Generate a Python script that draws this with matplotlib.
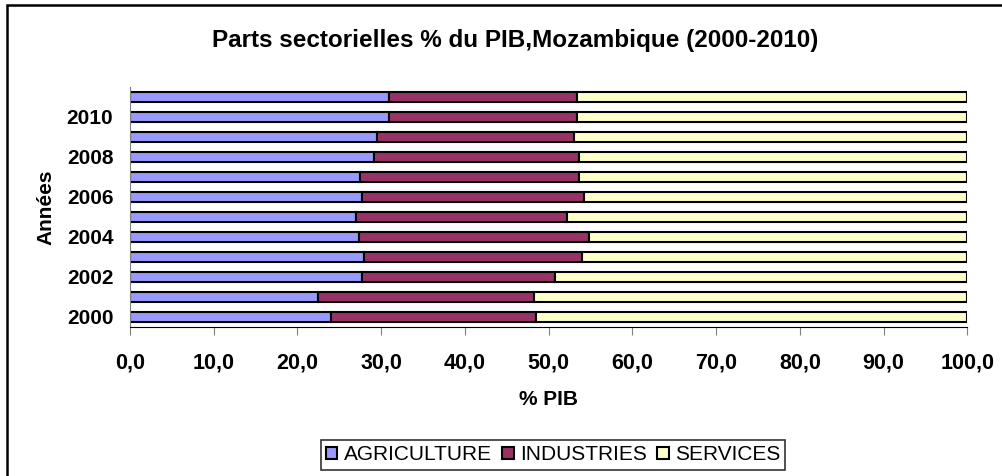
import matplotlib
matplotlib.use("Agg")
import matplotlib.pyplot as plt
from matplotlib.patches import Rectangle
import numpy as np

plt.rcParams['font.family'] = ['Liberation Sans', 'DejaVu Sans']

years = [2000, 2001, 2002, 2003, 2004, 2005, 2006, 2007, 2008, 2009, 2010, 2011]
agriculture = [24.0, 22.4, 27.7, 28.0, 27.3, 27.0, 27.7, 27.5, 29.2, 29.5, 30.9, 30.9]
industries = [24.5, 25.9, 23.1, 26.0, 27.5, 25.2, 26.5, 26.1, 24.4, 23.5, 22.5, 22.5]
services = [100 - a - i for a, i in zip(agriculture, industries)]
ytick_labels = ['2000', '', '2002', '', '2004', '', '2006', '', '2008', '', '2010', '']
xticks = [0, 10, 20, 30, 40, 50, 60, 70, 80, 90, 100]

fig = plt.figure(figsize=(10.03, 4.76), dpi=100)
ax = fig.add_axes([130/1003, 1-327/476, (967.3-130)/1003, 240/476])

y = np.arange(len(years))
a = np.array(agriculture)
i = np.array(industries)
s = np.array(services)
kw = dict(height=0.5, edgecolor='black', linewidth=1.5)
ax.barh(y, a, color='#9999FF', label='AGRICULTURE', **kw)
ax.barh(y, i, left=a, color='#993366', label='INDUSTRIES', **kw)
ax.barh(y, s, left=a + i, color='#FFFFCC', label='SERVICES', **kw)

ax.set_xlim(0, 100)
ax.set_ylim(-0.5, len(years) - 0.5)
ax.set_yticks(y)
ax.set_yticklabels(ytick_labels, fontsize=15, fontweight='bold')
ax.tick_params(axis='y', length=0, pad=12)
ax.set_xticks(xticks)
ax.set_xticklabels([f"{v:.1f}".replace('.', ',') for v in xticks], fontsize=15.5, fontweight='bold')
ax.tick_params(axis='x', length=6, color='#808080', pad=12)
for sp in ['top', 'right']:
    ax.spines[sp].set_visible(False)
ax.spines['left'].set_color('#808080')
ax.spines['bottom'].set_color('black')

ax.set_xlabel('% PIB', fontsize=15, fontweight='bold', labelpad=12)
ax.set_ylabel('Années', fontsize=15, fontweight='bold', labelpad=8)

fig.text(515/1003, 1-40/476, 'Parts sectorielles % du PIB,Mozambique (2000-2010)',
         ha='center', va='center', fontsize=17.5, fontweight='bold')

leg = fig.legend(loc='center', bbox_to_anchor=(553/1003, 1-455/476), ncol=3,
                 fontsize=15, frameon=True, fancybox=False, edgecolor='black',
                 handlelength=0.55, handleheight=0.55, handletextpad=0.3,
                 columnspacing=0.5, borderpad=0.25)
leg.get_frame().set_linewidth(1.2)

fig.patches.append(Rectangle((7/1003, -0.1), 1.2, 1 - 5/476 + 0.1, transform=fig.transFigure,
                             fill=False, edgecolor='black', linewidth=1.8))

fig.savefig('out.png', dpi=100)
